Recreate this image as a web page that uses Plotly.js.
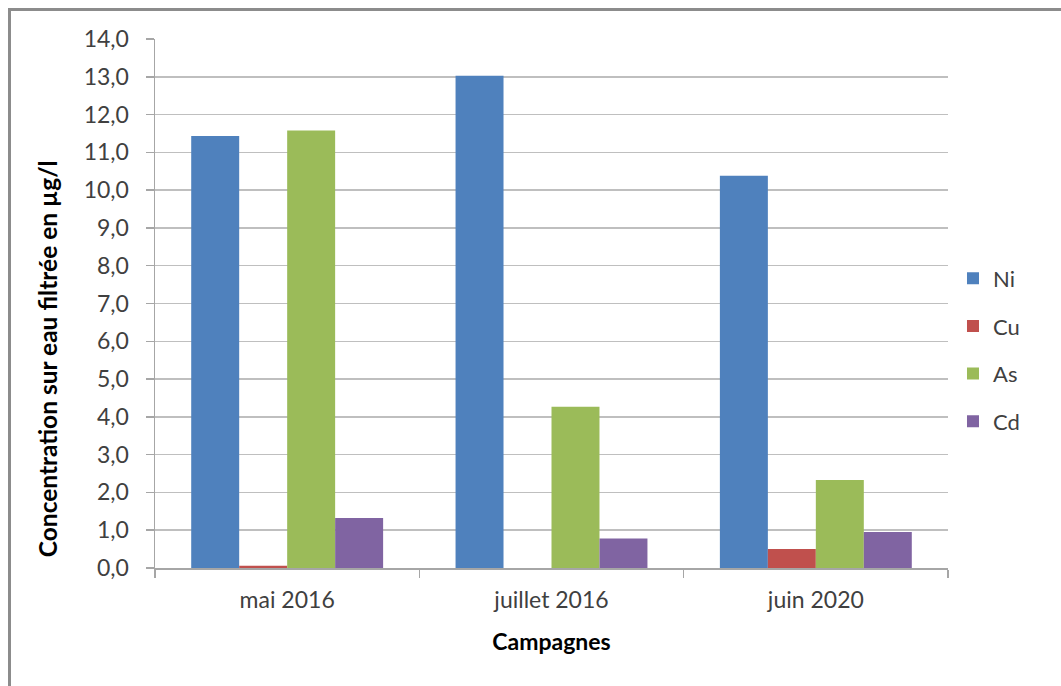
<!DOCTYPE html>
<html>
<head>
<meta charset="utf-8">
<script src="https://cdn.plot.ly/plotly-3.0.1.min.js"></script>
<style>
html,body{margin:0;padding:0;background:#fff;}
#wrap{position:relative;width:1061px;height:686px;overflow:hidden;}
#frame{position:absolute;left:8px;top:8px;width:1100px;height:700px;border-left:3px solid #8c8c8c;border-top:3px solid #8c8c8c;pointer-events:none;}
#chart{position:absolute;left:0;top:0;width:1061px;height:686px;}
</style>
</head>
<body>
<div id="wrap">
<div id="chart"></div>
<div id="frame"></div>
</div>
<script>
const categories = ["mai 2016", "juillet 2016", "juin 2020"];
const seriesNames = ["Ni", "Cu", "As", "Cd"];
const ni = [11.43, 13.03, 10.38];
const cu = [0.06, 0, 0.50];
const as = [11.58, 4.27, 2.33];
const cd = [1.32, 0.78, 0.95];
const yTicks = [0,1,2,3,4,5,6,7,8,9,10,11,12,13,14];
const yTickLabels = ["0,0","1,0","2,0","3,0","4,0","5,0","6,0","7,0","8,0","9,0","10,0","11,0","12,0","13,0","14,0"];
const yTitle = "Concentration sur eau filtrée en µg/l";
const xTitle = "Campagnes";

const colors = ["#4F81BD", "#C0504D", "#9BBB59", "#8064A2"];
const values = [ni, cu, as, cd];

const traces = seriesNames.map((n, i) => ({
  type: "bar",
  name: n,
  x: categories,
  y: values[i],
  legendgroup: n,
  marker: {color: colors[i], line: {width: 0}},
  hoverinfo: "x+y+name"
}));

const font = "Lato, 'Open Sans', sans-serif";

const layout = {
  width: 1061,
  height: 686,
  paper_bgcolor: "#ffffff",
  plot_bgcolor: "#ffffff",
  margin: {l: 155, r: 113, t: 39, b: 118},
  barmode: "group",
  bargap: 0.274,
  bargroupgap: 0,
  showlegend: true,
  legend: {
    x: 1.0063, xanchor: "left",
    y: 0.412, yanchor: "middle",
    font: {family: font, size: 22, color: "#404040"},
    tracegroupgap: 16,
    itemwidth: 30,
    bgcolor: "rgba(0,0,0,0)"
  },
  font: {family: font, color: "#404040"},
  xaxis: {
    type: "category",
    tickson: "boundaries",
    ticks: "outside",
    ticklen: 8,
    tickcolor: "#a6a6a6",
    tickwidth: 1.5,
    showline: true,
    linecolor: "#a6a6a6",
    linewidth: 1.5,
    showgrid: false,
    ticklabelstandoff: 11,
    tickfont: {family: font, size: 23, color: "#404040"},
    title: {text: xTitle, font: {family: font, size: 23, color: "#000000", weight: "bold"}, standoff: 22}
  },
  yaxis: {
    range: [0, 14],
    tickvals: yTicks,
    ticktext: yTickLabels,
    ticks: "outside",
    ticklen: 8,
    tickcolor: "#a6a6a6",
    tickwidth: 1.5,
    showline: true,
    linecolor: "#a6a6a6",
    linewidth: 1.5,
    showgrid: true,
    gridcolor: "#bfbfbf",
    gridwidth: 1.5,
    zeroline: false,
    ticklabelstandoff: 12,
    tickfont: {family: font, size: 23, color: "#404040"}
  },
  annotations: [{
    text: yTitle,
    xref: "paper", yref: "paper",
    x: -0.136, y: 0.395,
    xanchor: "center", yanchor: "middle",
    textangle: -90,
    showarrow: false,
    font: {family: font, size: 24.5, color: "#000000", weight: "bold"}
  }]
};

Plotly.newPlot("chart", traces, layout, {displayModeBar: false, staticPlot: true});
</script>
</body>
</html>
